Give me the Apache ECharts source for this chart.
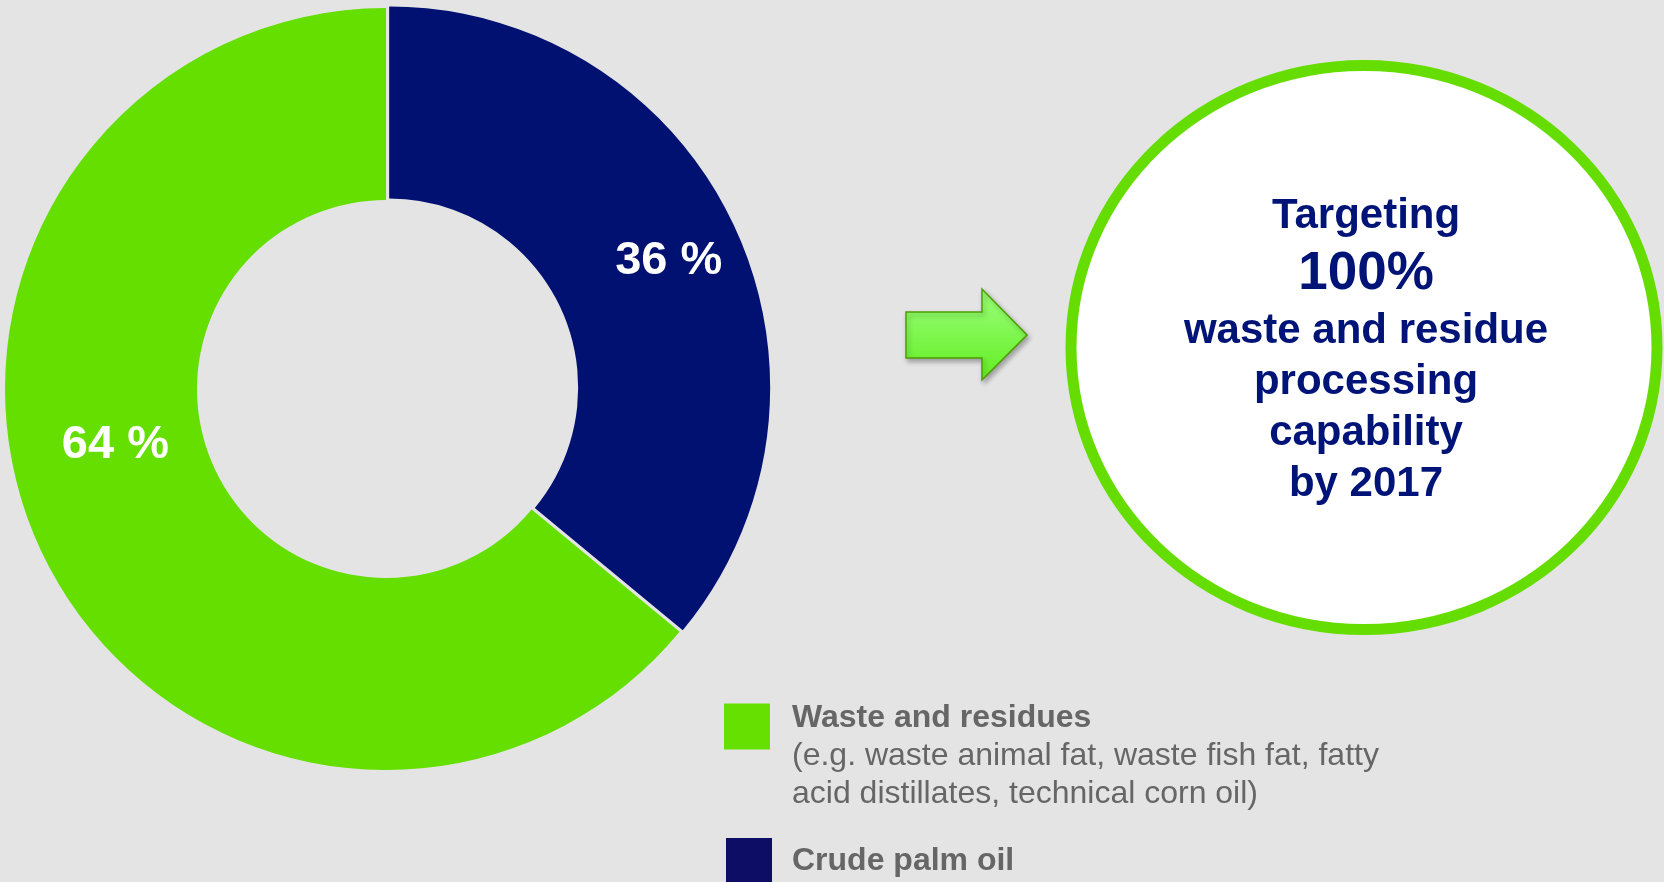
<!DOCTYPE html>
<html>
<head>
<meta charset="utf-8">
<script src="https://cdn.jsdelivr.net/npm/echarts@6/dist/echarts.min.js"></script>
<style>
  html, body { margin: 0; padding: 0; background: #e4e4e4; }
  #main { width: 1664px; height: 882px; }
</style>
</head>
<body>
<div id="main"></div>
<script>
// data
var sliceNames = ['Crude palm oil', 'Waste and residues'];
var sliceValues = [36, 64];
var wasteNote = ['(e.g. waste animal fat, waste fish fat, fatty', 'acid distillates, technical corn oil)'];
var targetLines = ['Targeting', '100%', 'waste and residue', 'processing', 'capability', 'by 2017'];

var GREEN = '#64df00';
var NAVY = '#001172';
var GREY = '#666666';
var FONT = '"Liberation Sans", Arial, sans-serif';

var chart = echarts.init(document.getElementById('main'));

var pieData = [];
for (var i = 0; i < sliceNames.length; i++) {
    pieData.push({
        name: sliceNames[i],
        value: sliceValues[i],
        selected: i === 0,
        itemStyle: { color: i === 0 ? NAVY : GREEN }
    });
}

var option = {
    backgroundColor: '#e4e4e4',
    animation: false,
    legend: [
        {
            left: 724, top: 702, padding: 0,
            orient: 'vertical', align: 'left',
            itemWidth: 46, itemHeight: 46, icon: 'rect',
            selectedMode: false,
            data: [{ name: sliceNames[1], itemStyle: { color: '#66e000' } }],
            formatter: function (name) {
                return '{t|' + name + '}\n{d|' + wasteNote[0] + '}\n{d|' + wasteNote[1] + '}';
            },
            textStyle: {
                padding: [59, 0, 0, 17],
                rich: {
                    t: { fontFamily: FONT, fontSize: 32, fontWeight: 'bold', color: GREY, lineHeight: 38 },
                    d: { fontFamily: FONT, fontSize: 32, color: GREY, lineHeight: 38 }
                }
            }
        },
        {
            left: 726, top: 838, padding: 0,
            orient: 'vertical', align: 'left',
            itemWidth: 46, itemHeight: 46, icon: 'rect',
            selectedMode: false,
            data: [{ name: sliceNames[0], itemStyle: { color: '#0d0d66' } }],
            textStyle: {
                padding: [0, 0, 0, 15],
                fontFamily: FONT, fontSize: 32, fontWeight: 'bold', color: GREY
            }
        }
    ],
    series: [
        {
            type: 'pie',
            center: [386, 389],
            radius: [189, 381],
            startAngle: 90,
            clockwise: true,
            avoidLabelOverlap: false,
            selectedMode: 'single',
            selectedOffset: 3.5,
            silent: true,
            label: {
                show: true,
                position: 'inside',
                formatter: '{c} %',
                color: '#ffffff',
                fontFamily: FONT,
                fontSize: 47,
                fontWeight: 'bold'
            },
            labelLine: { show: false },
            labelLayout: function (p) {
                return p.dataIndex === 0 ? { dx: 19, dy: -4 } : { dx: -10, dy: -67 };
            },
            select: { itemStyle: { borderWidth: 0 } },
            emphasis: { disabled: true },
            data: pieData
        }
    ],
    graphic: [
        {
            type: 'polygon',
            shape: { points: [[906, 312], [982, 312], [982, 289], [1027, 335], [982, 380], [982, 358], [906, 358]] },
            style: {
                fill: new echarts.graphic.LinearGradient(0, 0, 0, 1, [
                    { offset: 0, color: '#9cff7c' },
                    { offset: 1, color: '#62ee22' }
                ]),
                stroke: '#4c9e00',
                lineWidth: 1.5,
                shadowBlur: 5,
                shadowOffsetX: 2,
                shadowOffsetY: 3,
                shadowColor: 'rgba(0,0,0,0.3)'
            }
        },
        {
            type: 'ellipse',
            shape: { cx: 1364, cy: 347.5, rx: 293, ry: 282 },
            style: { fill: '#ffffff', stroke: '#66dd00', lineWidth: 11 }
        },
        {
            type: 'text',
            x: 1366, y: 190,
            style: {
                text: '{a|' + targetLines[0] + '}\n{b|' + targetLines[1] + '}\n' +
                      targetLines.slice(2).map(function (s) { return '{c|' + s + '}'; }).join('\n'),
                align: 'center',
                verticalAlign: 'top',
                rich: {
                    a: { fontFamily: FONT, fontSize: 42, fontWeight: 'bold', fill: '#001478', lineHeight: 53, align: 'center' },
                    b: { fontFamily: FONT, fontSize: 53, fontWeight: 'bold', fill: '#001478', lineHeight: 63, align: 'center' },
                    c: { fontFamily: FONT, fontSize: 42, fontWeight: 'bold', fill: '#001478', lineHeight: 51, align: 'center' }
                }
            }
        }
    ]
};

chart.setOption(option);
</script>
</body>
</html>
